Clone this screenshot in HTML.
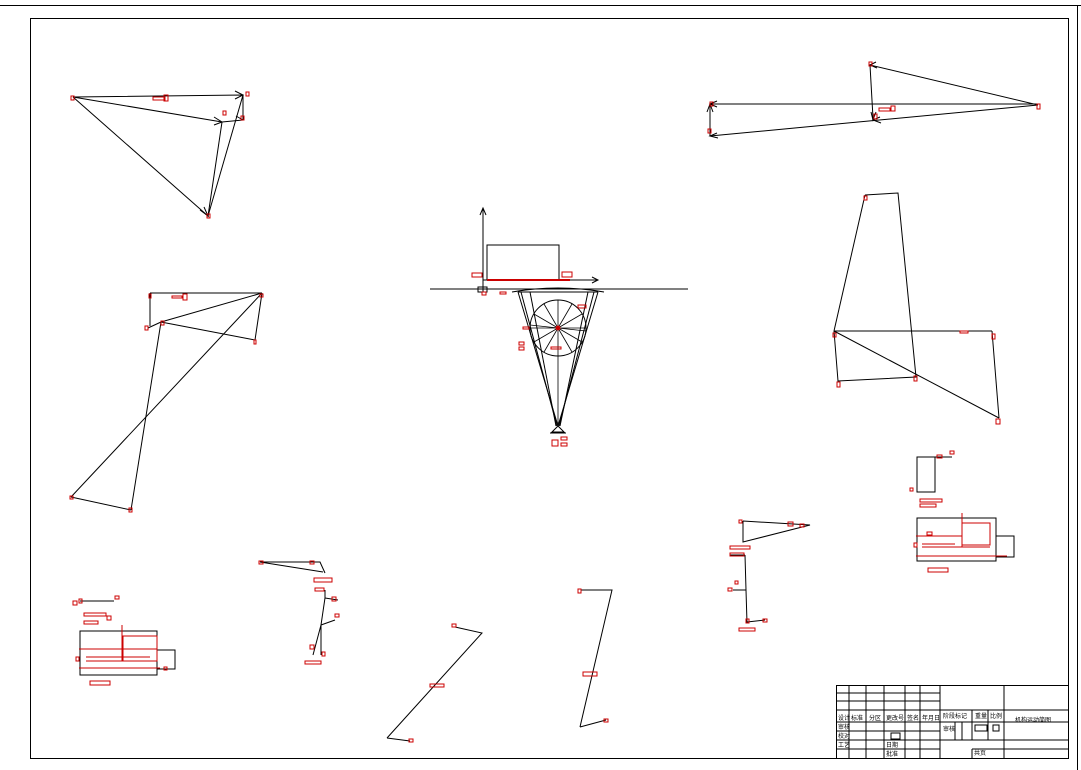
<!DOCTYPE html>
<html><head><meta charset="utf-8"><style>
html,body{margin:0;padding:0;background:#fff;width:1081px;height:770px;overflow:hidden}
svg{display:block}
text{font-family:"Liberation Sans","Noto Sans CJK SC",sans-serif;font-size:6px;fill:#000}
</style></head><body>
<svg width="1081" height="770" viewBox="0 0 1081 770" xmlns="http://www.w3.org/2000/svg">
<g stroke="#000" stroke-width="1" fill="none">
<line x1="0" y1="5.5" x2="1081" y2="5.5"/>
<line x1="1077.5" y1="5" x2="1077.5" y2="770"/>
<rect x="30.5" y="18.5" width="1038" height="740"/>
<!-- top-left triangle -->
<polyline points="73,97 243,95 208,216 73,97"/>
<line x1="73" y1="97" x2="222" y2="122"/>
<line x1="222" y1="122" x2="243" y2="120"/>
<line x1="243" y1="95" x2="243" y2="120"/>
<line x1="222" y1="122" x2="208" y2="216"/>
<path d="M235,91 L243,95 L235,99 M214,117 L222,122 L214,125 M200,210 L208,216 L204,207 M236,116 L243,120"/>
<!-- top-right -->
<polyline points="1038,105 870,65 873,118"/>
<line x1="710" y1="104" x2="1038" y2="104"/>
<line x1="710" y1="136" x2="1038" y2="105"/>
<line x1="710" y1="104" x2="710" y2="136"/>
<path d="M717,101 L710,104 L717,107 M717,133 L710,136 L718,138 M707,112 L710,104 L713,112 M876,62 L870,65 L877,68 M871,112 L873,120 L876,112 M880,117 L873,120 L881,123"/>
<!-- left middle -->
<line x1="150" y1="293" x2="262" y2="293"/>
<line x1="150" y1="293" x2="150" y2="326"/>
<line x1="148" y1="328" x2="161" y2="322"/>
<line x1="161" y1="322" x2="262" y2="293"/>
<line x1="161" y1="322" x2="255" y2="340"/>
<line x1="262" y1="293" x2="255" y2="340"/>
<line x1="161" y1="322" x2="131" y2="510"/>
<line x1="262" y1="293" x2="71" y2="497"/>
<line x1="71" y1="497" x2="131" y2="510"/>
<!-- right middle -->
<polyline points="865,195 898,193 916,377 838,381 834,331"/>
<line x1="865" y1="195" x2="834" y2="331"/>
<line x1="834" y1="331" x2="992" y2="331"/>
<line x1="834" y1="331" x2="999" y2="418"/>
<line x1="992" y1="331" x2="999" y2="418"/>
<!-- center mechanism -->
<line x1="430" y1="289" x2="688" y2="289"/>
<line x1="483" y1="292" x2="483" y2="209"/>
<path d="M480,215 L483,208 L486,215 M592,277 L598,280 L592,283"/>
<line x1="483" y1="280" x2="598" y2="280"/>
<rect x="487" y="245" width="72" height="35"/>
<rect x="478" y="287" width="9" height="5"/>
<circle cx="558" cy="328" r="28"/>
<line x1="518" y1="292" x2="558" y2="426"/>
<line x1="598" y1="292" x2="558" y2="426"/>
<line x1="521" y1="292" x2="557" y2="426"/>
<line x1="594" y1="292" x2="559" y2="426"/>
<line x1="530" y1="292" x2="556" y2="426"/>
<line x1="588" y1="292" x2="560" y2="426"/>
<line x1="518" y1="292" x2="598" y2="292"/>
<path d="M512,292 Q558,284 604,292" />
<g stroke-width="0.8">
<line x1="530" y1="328" x2="586" y2="328"/>
<line x1="558" y1="300" x2="558" y2="426"/>
<line x1="534" y1="314" x2="582" y2="342"/>
<line x1="582" y1="314" x2="534" y2="342"/>
<line x1="544" y1="304" x2="572" y2="352"/>
<line x1="572" y1="304" x2="544" y2="352"/>
<line x1="530" y1="325" x2="586" y2="331"/>
</g>
<path d="M552,432 L558,426 L564,432 Z"/>
<line x1="550" y1="433" x2="566" y2="433"/>
<!-- bottom left boxes -->
<rect x="80" y="631" width="77" height="44"/>
<rect x="157" y="650" width="18" height="19"/>
<line x1="80" y1="601" x2="114" y2="601"/>
<!-- linkage 2 -->
<polyline points="260,562 320,562 325,573"/>
<line x1="260" y1="562" x2="323" y2="572"/>
<polyline points="325,590 325,598 321,625 313,655"/>
<line x1="321" y1="625" x2="321" y2="655"/>
<line x1="325" y1="598" x2="338" y2="600"/>
<line x1="321" y1="625" x2="335" y2="620"/>
<polyline points="387,738 482,633 455,627"/>
<polyline points="581,590 612,590 580,727"/>
<line x1="606" y1="720" x2="580" y2="727"/>
<line x1="387" y1="738" x2="410" y2="741"/>
<!-- bottom right -->
<polyline points="743,521 810,525 743,542 743,521"/>
<polyline points="745,555 746,590 747,623"/>
<line x1="730" y1="555" x2="745" y2="555"/>
<line x1="733" y1="590" x2="746" y2="590"/>
<line x1="747" y1="622" x2="765" y2="620"/>
<rect x="917" y="457" width="18" height="35"/>
<line x1="935" y1="457" x2="952" y2="457"/>
<rect x="917" y="518" width="79" height="43"/>
<rect x="996" y="536" width="18" height="21"/>
<!-- title block -->
<rect x="836.5" y="685.5" width="232" height="73"/>
<line x1="940" y1="710" x2="1068" y2="710"/>
<line x1="836" y1="693" x2="940" y2="693"/>
<line x1="836" y1="701" x2="940" y2="701"/>
<line x1="836" y1="710" x2="940" y2="710"/>
<line x1="836" y1="722" x2="1068" y2="722"/>
<line x1="836" y1="731" x2="940" y2="731"/>
<line x1="836" y1="740" x2="1068" y2="740"/>
<line x1="836" y1="749" x2="940" y2="749"/>
<line x1="940" y1="685" x2="940" y2="758"/>
<line x1="1004" y1="685" x2="1004" y2="758"/>
<line x1="849" y1="685" x2="849" y2="758"/>
<line x1="866" y1="685" x2="866" y2="758"/>
<line x1="884" y1="685" x2="884" y2="758"/>
<line x1="905" y1="685" x2="905" y2="758"/>
<line x1="920" y1="685" x2="920" y2="758"/>
<line x1="972" y1="710" x2="972" y2="740"/>
<line x1="988" y1="710" x2="988" y2="740"/>
<line x1="955" y1="722" x2="955" y2="740"/>
<line x1="962" y1="722" x2="962" y2="740"/>
<line x1="972" y1="749" x2="1068" y2="749"/>
<line x1="972" y1="749" x2="972" y2="758"/>
<rect x="891" y="733" width="9" height="6"/>
<rect x="975" y="725" width="12" height="6"/>
<rect x="993" y="725" width="6" height="6"/>
</g>
<!-- red annotations -->
<g stroke="#c00" stroke-width="1" fill="none">
<rect x="71" y="96" width="3" height="4"/><rect x="246" y="92" width="3" height="4"/>
<rect x="153" y="97" width="12" height="3"/><rect x="164" y="95" width="4" height="6"/><rect x="207" y="214" width="3" height="4"/>
<rect x="223" y="111" width="3" height="4"/><rect x="241" y="116" width="3" height="4"/>
<rect x="879" y="108" width="11" height="3"/><rect x="891" y="106" width="4" height="5"/>
<rect x="869" y="62" width="3" height="4"/><rect x="1037" y="104" width="3" height="5"/>
<rect x="710" y="102" width="3" height="4"/><rect x="708" y="129" width="3" height="4"/><rect x="874" y="114" width="3" height="5"/>
<rect x="172" y="296" width="10" height="2"/><rect x="183" y="294" width="4" height="6"/>
<rect x="149" y="294" width="2" height="4"/><rect x="145" y="326" width="3" height="4"/><rect x="161" y="321" width="3" height="4"/>
<rect x="260" y="294" width="3" height="3"/><rect x="254" y="340" width="2" height="4"/>
<rect x="70" y="496" width="3" height="3"/><rect x="129" y="508" width="3" height="4"/>
<rect x="960" y="331" width="8" height="2"/><rect x="864" y="196" width="3" height="4"/>
<rect x="833" y="333" width="3" height="4"/><rect x="992" y="334" width="3" height="5"/><rect x="837" y="382" width="3" height="5"/>
<rect x="914" y="376" width="3" height="5"/><rect x="996" y="419" width="4" height="5"/>
<rect x="472" y="273" width="10" height="4"/><rect x="562" y="272" width="10" height="5"/>
<line x1="487" y1="280" x2="570" y2="280" stroke-width="2"/>
<rect x="482" y="292" width="4" height="3"/><rect x="500" y="292" width="6" height="2"/>
<rect x="578" y="305" width="8" height="3"/><rect x="523" y="327" width="6" height="2"/>
<rect x="519" y="342" width="5" height="3"/><rect x="519" y="347" width="5" height="3"/>
<rect x="551" y="347" width="10" height="2"/>
<rect x="552" y="440" width="6" height="6"/><rect x="561" y="437" width="6" height="3"/><rect x="561" y="443" width="6" height="3"/>
<rect x="73" y="601" width="4" height="4"/><rect x="79" y="599" width="3" height="4"/><rect x="115" y="596" width="4" height="3"/>
<rect x="84" y="613" width="22" height="3"/><rect x="84" y="621" width="14" height="3"/><rect x="107" y="616" width="4" height="4"/>
<rect x="90" y="681" width="20" height="4"/>
<polyline points="79,668 160,668"/><polyline points="79,649 157,649"/>
<rect x="123" y="636" width="34" height="25"/><line x1="122" y1="625" x2="122" y2="661"/>
<line x1="86" y1="657" x2="150" y2="657"/><line x1="86" y1="661" x2="152" y2="661"/>
<rect x="76" y="657" width="3" height="4"/><rect x="164" y="667" width="3" height="3"/>
<rect x="259" y="561" width="4" height="3"/><rect x="310" y="561" width="4" height="3"/>
<rect x="314" y="578" width="18" height="4"/><rect x="315" y="588" width="9" height="3"/>
<rect x="332" y="597" width="4" height="4"/><rect x="335" y="614" width="4" height="3"/>
<rect x="310" y="645" width="4" height="4"/><rect x="322" y="652" width="3" height="4"/><rect x="305" y="661" width="16" height="3"/>
<rect x="452" y="624" width="4" height="3"/><rect x="409" y="739" width="4" height="3"/>
<rect x="430" y="684" width="14" height="3"/><rect x="578" y="589" width="3" height="4"/>
<rect x="583" y="672" width="14" height="4"/><rect x="604" y="719" width="4" height="3"/>
<rect x="739" y="520" width="3" height="3"/><rect x="788" y="522" width="5" height="4"/><rect x="800" y="524" width="4" height="3"/>
<rect x="730" y="546" width="20" height="3"/><rect x="730" y="553" width="14" height="3"/>
<rect x="735" y="581" width="3" height="3"/><rect x="728" y="588" width="4" height="3"/>
<rect x="746" y="619" width="3" height="4"/><rect x="763" y="619" width="4" height="3"/><rect x="739" y="628" width="16" height="3"/>
<rect x="937" y="455" width="5" height="3"/><rect x="950" y="451" width="4" height="3"/><rect x="910" y="488" width="3" height="3"/>
<rect x="920" y="499" width="22" height="3"/><rect x="920" y="504" width="16" height="3"/>
<rect x="928" y="568" width="20" height="4"/>
<line x1="916" y1="556" x2="1007" y2="556"/>
<rect x="962" y="523" width="28" height="22"/><line x1="962" y1="513" x2="962" y2="547"/>
<line x1="922" y1="544" x2="955" y2="544"/><line x1="922" y1="547" x2="990" y2="547"/>
<line x1="916" y1="536" x2="962" y2="536"/>
<rect x="914" y="543" width="3" height="4"/><rect x="927" y="532" width="5" height="3"/>
<circle cx="558" cy="328" r="2" fill="#c00"/>
</g>
<g>
<text x="838" y="720">设计</text><text x="851" y="720">标准</text><text x="869" y="720">分区</text><text x="886" y="720">更改号</text><text x="907" y="720">签名</text><text x="922" y="720">年月日</text>
<text x="943" y="718">阶段标记</text><text x="975" y="718">重量</text><text x="990" y="718">比例</text>
<text x="838" y="729">审核</text><text x="838" y="738">校对</text><text x="838" y="747">工艺</text>
<text x="886" y="747">日期</text><text x="886" y="756">批准</text>
<text x="1015" y="722">机构运动简图</text><text x="943" y="731">审核</text><text x="974" y="755">共页</text>
</g>
</svg>
</body></html>
